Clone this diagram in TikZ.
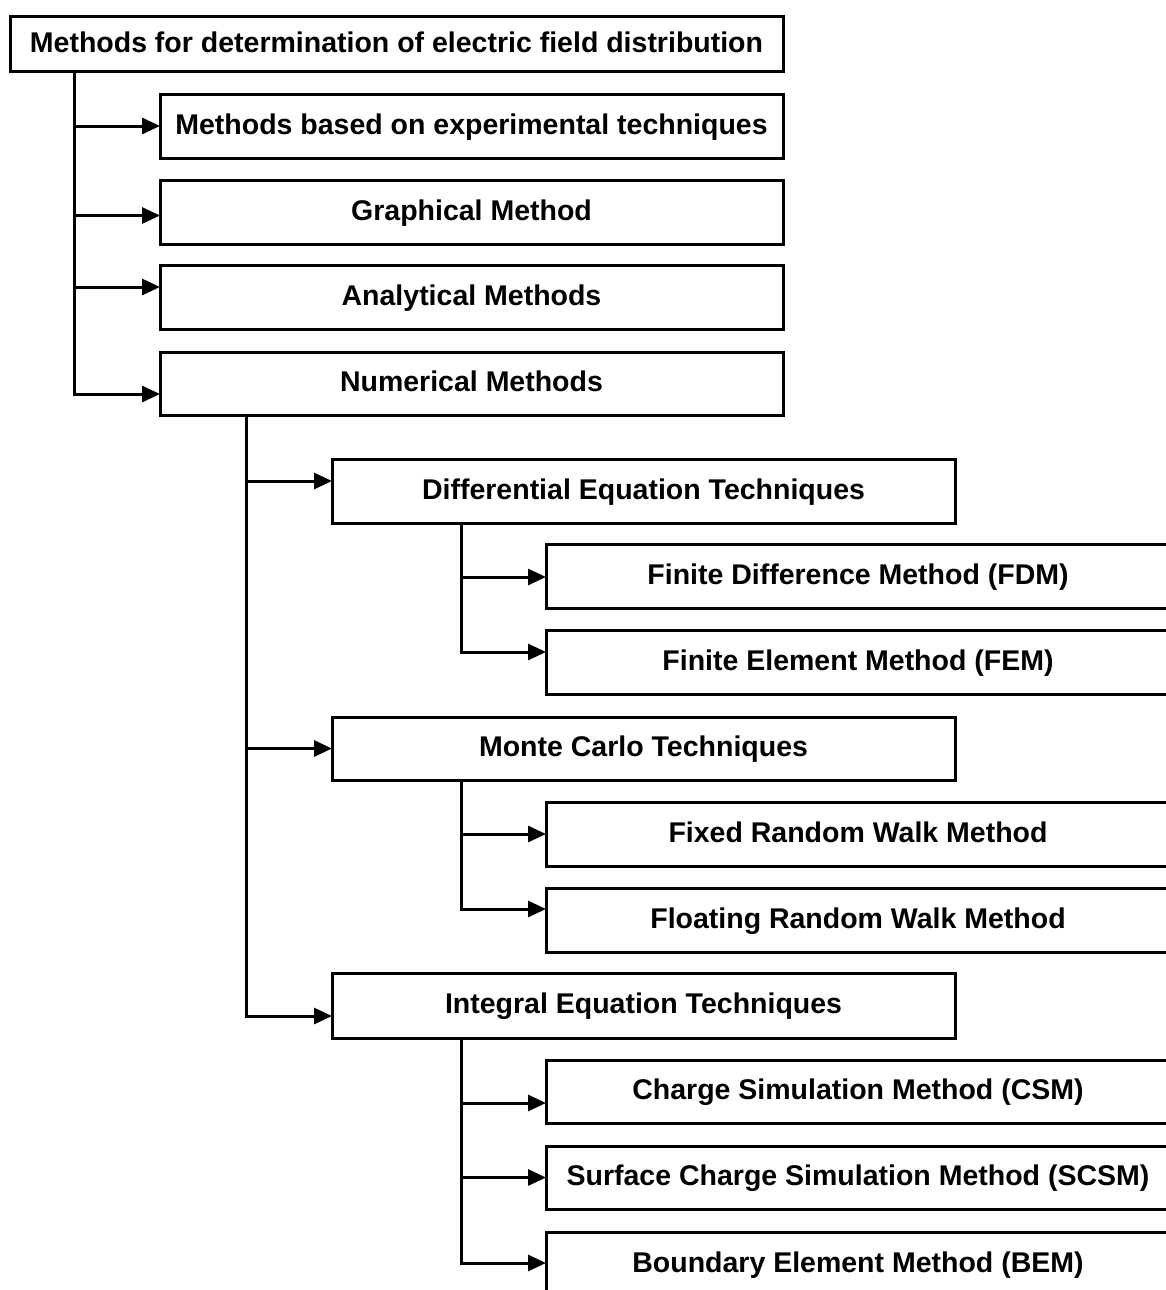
\documentclass[tikz,border=0pt]{standalone}
\usepackage{fontspec}
\setmainfont{Liberation Sans}
\usetikzlibrary{arrows.meta}
\begin{document}
\begin{tikzpicture}[x=1pt,y=-1pt,
  box/.style={draw, line width=3pt, minimum height=64pt, minimum width=623pt,
    anchor=north west, inner sep=0pt, outer sep=0pt,
    font=\fontsize{28.5}{32}\selectfont\bfseries, text height=21pt, text depth=5pt},
  link/.style={line width=3pt},
  arr/.style={link, -{Triangle[length=18pt,width=16pt]}}]
\useasboundingbox (0,0) rectangle (1166,1290);
\clip (0,0) rectangle (1166,1290);
% boxes
\node[box, minimum width=773pt, minimum height=55pt] (title) at (10,17) {Methods for determination of electric field distribution};
\node[box] (b1) at (160,94) {Methods based on experimental techniques};
\node[box] (b2) at (160,180) {Graphical Method};
\node[box] (b3) at (160,265) {Analytical Methods};
\node[box, minimum height=63pt] (b4) at (160,352) {Numerical Methods};
\node[box] (c1) at (332,459) {Differential Equation Techniques};
\node[box, minimum height=63pt] (c2) at (332,717) {Monte Carlo Techniques};
\node[box, minimum height=65pt] (c3) at (332,973) {Integral Equation Techniques};
\node[box, minimum width=624pt] (d1) at (546,544) {Finite Difference Method (FDM)};
\node[box, minimum width=624pt] (d2) at (546,630) {Finite Element Method (FEM)};
\node[box, minimum width=624pt] (e1) at (546,802) {Fixed Random Walk Method};
\node[box, minimum width=624pt] (e2) at (546,888) {Floating Random Walk Method};
\node[box, minimum width=624pt, minimum height=63pt] (f1) at (546,1060) {Charge Simulation Method (CSM)};
\node[box, minimum width=624pt, minimum height=63pt] (f2) at (546,1146) {Surface Charge Simulation Method (SCSM)};
\node[box, minimum width=624pt] (f3) at (546,1232) {Boundary Element Method (BEM)};
% trunk start points
\coordinate (T1) at ([xshift=64pt]title.south west);
\coordinate (T2) at ([xshift=86pt]b4.south west);
\coordinate (T3) at ([xshift=129pt]c1.south west);
\coordinate (T4) at ([xshift=129pt]c2.south west);
\coordinate (T5) at ([xshift=129pt]c3.south west);
% arrow end points
\coordinate (b1in) at (b1.west);
\coordinate (b2in) at ([yshift=-3.5pt]b2.west);
\coordinate (b3in) at ([yshift=10pt]b3.west);
\coordinate (b4in) at ([yshift=-10.5pt]b4.west);
\coordinate (c1in) at ([yshift=10pt]c1.west);
\coordinate (c2in) at (c2.west);
\coordinate (c3in) at ([yshift=-10.5pt]c3.west);
\coordinate (d1in) at ([yshift=-1pt]d1.west);
\coordinate (d2in) at ([yshift=10pt]d2.west);
\coordinate (e1in) at (e1.west);
\coordinate (e2in) at ([yshift=11pt]e2.west);
\coordinate (f1in) at ([yshift=-11.5pt]f1.west);
\coordinate (f2in) at (f2.west);
\coordinate (f3in) at ([yshift=1pt]f3.west);
% connectors
\draw[arr] (T1) |- (b4in);
\foreach \n in {b1in,b2in,b3in} \draw[arr] (T1 |- \n) -- (\n);
\draw[arr] (T2) |- (c3in);
\foreach \n in {c1in,c2in} \draw[arr] (T2 |- \n) -- (\n);
\draw[arr] (T3) |- (d2in);
\draw[arr] (T3 |- d1in) -- (d1in);
\draw[arr] (T4) |- (e2in);
\draw[arr] (T4 |- e1in) -- (e1in);
\draw[arr] (T5) |- (f3in);
\foreach \n in {f1in,f2in} \draw[arr] (T5 |- \n) -- (\n);
\end{tikzpicture}
\end{document}
